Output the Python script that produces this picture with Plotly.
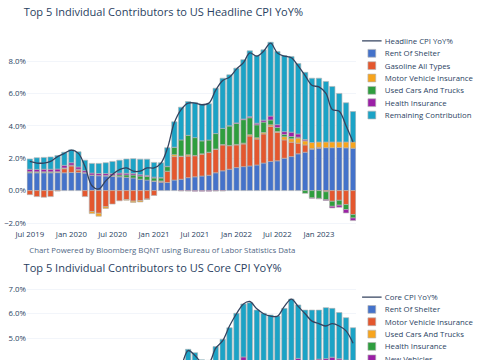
import plotly.graph_objects as go

months = [
    "2019-07-01", "2019-08-01", "2019-09-01", "2019-10-01", "2019-11-01", "2019-12-01",
    "2020-01-01", "2020-02-01", "2020-03-01", "2020-04-01", "2020-05-01", "2020-06-01",
    "2020-07-01", "2020-08-01", "2020-09-01", "2020-10-01", "2020-11-01", "2020-12-01",
    "2021-01-01", "2021-02-01", "2021-03-01", "2021-04-01", "2021-05-01", "2021-06-01",
    "2021-07-01", "2021-08-01", "2021-09-01", "2021-10-01", "2021-11-01", "2021-12-01",
    "2022-01-01", "2022-02-01", "2022-03-01", "2022-04-01", "2022-05-01", "2022-06-01",
    "2022-07-01", "2022-08-01", "2022-09-01", "2022-10-01", "2022-11-01", "2022-12-01",
    "2023-01-01", "2023-02-01", "2023-03-01", "2023-04-01", "2023-05-01", "2023-06-01",
]

# ---------------- Headline CPI ----------------
headline_cpi = [1.8, 1.7, 1.7, 1.8, 2.1, 2.3, 2.5, 2.3, 1.5, 0.3, 0.1, 0.6, 1.0, 1.3, 1.4, 1.2, 1.2, 1.4,
                1.4, 1.7, 2.6, 4.2, 5.0, 5.4, 5.4, 5.3, 5.4, 6.2, 6.8, 7.0, 7.5, 7.9, 8.5, 8.3, 8.6, 9.1,
                8.5, 8.3, 8.2, 7.7, 7.1, 6.5, 6.4, 6.0, 5.0, 4.9, 4.0, 3.0]
h_rent = [1.10, 1.10, 1.10, 1.10, 1.11, 1.10, 1.12, 1.12, 1.08, 0.95, 0.92, 0.90, 0.88, 0.85, 0.82, 0.78, 0.70, 0.65,
          0.58, 0.52, 0.50, 0.65, 0.70, 0.80, 0.85, 0.90, 0.95, 1.10, 1.22, 1.32, 1.42, 1.48, 1.52, 1.58, 1.70, 1.80,
          1.84, 2.00, 2.10, 2.27, 2.37, 2.55, 2.62, 2.65, 2.65, 2.66, 2.64, 2.62]
h_gasoline = [-0.25, -0.37, -0.41, -0.37, -0.03, 0.25, 0.40, 0.15, -0.37, -1.30, -1.40, -1.00, -0.83, -0.63, -0.55, -0.65, -0.62, -0.52,
              -0.30, 0.05, 0.68, 1.45, 1.40, 1.33, 1.30, 1.35, 1.40, 1.45, 1.60, 1.45, 1.40, 1.40, 1.85, 1.60, 1.80, 2.16,
              1.75, 1.13, 0.89, 0.66, 0.45, 0.05, 0.05, -0.07, -0.66, -0.60, -0.86, -1.48]
h_motor_ins = [0.04, 0.04, 0.04, 0.04, 0.04, 0.04, 0.05, 0.05, 0.03, -0.12, -0.18, -0.10, 0.02, 0.02, -0.05, -0.08, -0.08, -0.02,
               0.02, 0.03, 0.02, 0.12, 0.03, 0.08, 0.02, 0.02, 0.02, 0.02, 0.02, 0.02, 0.03, 0.05, 0.08, 0.08, 0.08, 0.10,
               0.06, 0.20, 0.21, 0.31, 0.25, 0.37, 0.33, 0.35, 0.35, 0.34, 0.36, 0.38]
h_used_cars = [0.03, 0.02, 0.02, 0.02, 0.02, 0.01, 0.00, 0.00, 0.00, 0.01, 0.01, 0.03, 0.05, 0.10, 0.15, 0.18, 0.20, 0.22,
               0.18, 0.18, 0.28, 0.45, 1.00, 1.20, 1.10, 0.80, 0.75, 0.95, 1.00, 1.20, 1.30, 1.45, 1.05, 0.80, 0.65, 0.30,
               0.25, 0.14, 0.14, 0.06, -0.17, -0.45, -0.48, -0.50, -0.31, -0.30, -0.31, -0.21]
h_health = [0.15, 0.15, 0.16, 0.16, 0.16, 0.16, 0.15, 0.14, 0.12, 0.12, 0.12, 0.12, 0.11, 0.11, 0.10, 0.09, 0.08, 0.07,
            0.05, 0.03, 0.02, 0.01, -0.02, -0.03, -0.04, -0.04, -0.04, -0.03, -0.02, 0.02, 0.03, 0.04, 0.06, 0.10, 0.12, 0.24,
            0.17, 0.17, 0.27, 0.20, 0.08, -0.02, -0.03, -0.04, -0.10, -0.13, -0.21, -0.16]
h_remaining = [0.63, 0.72, 0.73, 0.76, 0.84, 0.81, 0.80, 0.94, 0.65, 0.60, 0.63, 0.67, 0.74, 0.80, 0.88, 0.92, 0.96, 1.00,
               0.91, 0.91, 1.15, 1.57, 2.02, 2.09, 2.17, 2.25, 2.24, 2.80, 3.10, 3.14, 3.38, 3.66, 4.07, 4.18, 4.34, 4.56,
               4.52, 4.70, 4.67, 4.35, 4.15, 3.97, 3.94, 3.74, 3.43, 3.00, 2.42, 1.88]

# ---------------- Core CPI ----------------
core_cpi = [2.2, 2.4, 2.4, 2.3, 2.3, 2.3, 2.3, 2.4, 2.1, 1.4, 1.2, 1.2, 1.6, 1.7, 1.7, 1.6, 1.6, 1.6,
            1.4, 1.3, 1.6, 3.0, 3.8, 4.5, 4.3, 4.0, 4.0, 4.6, 4.9, 5.5, 6.0, 6.4, 6.5, 6.2, 6.0, 5.9,
            5.9, 6.3, 6.6, 6.3, 6.0, 5.7, 5.6, 5.5, 5.6, 5.5, 5.3, 4.8]
c_rent = [1.40, 1.41, 1.42, 1.42, 1.42, 1.41, 1.42, 1.43, 1.30, 1.15, 1.08, 1.02, 0.98, 0.95, 0.92, 0.88, 0.85, 0.80,
          0.75, 0.70, 0.70, 0.78, 0.88, 1.00, 1.08, 1.15, 1.22, 1.38, 1.52, 1.68, 1.80, 1.92, 2.00, 2.10, 2.25, 2.38,
          2.45, 2.60, 2.78, 2.95, 3.08, 3.25, 3.35, 3.42, 3.45, 3.48, 3.45, 3.42]
c_motor_ins = [0.12, 0.12, 0.12, 0.11, 0.10, 0.10, 0.09, 0.09, 0.06, -0.15, -0.22, -0.12, 0.02, 0.02, -0.05, -0.08, -0.08, -0.02,
               0.02, 0.03, 0.02, 0.12, 0.03, 0.08, 0.02, 0.02, 0.02, 0.02, 0.02, 0.02, 0.04, 0.05, 0.08, 0.09, 0.10, 0.12,
               0.10, 0.22, 0.26, 0.40, 0.32, 0.45, 0.42, 0.45, 0.45, 0.43, 0.46, 0.48]
c_used_cars = [0.02, 0.02, 0.01, 0.01, 0.01, 0.00, -0.03, -0.02, -0.01, -0.02, -0.03, 0.02, 0.05, 0.12, 0.20, 0.24, 0.26, 0.28,
               0.22, 0.22, 0.35, 0.80, 1.30, 1.70, 1.55, 1.20, 1.00, 1.05, 1.20, 1.50, 1.65, 1.75, 1.35, 1.00, 0.80, 0.40,
               0.32, 0.20, 0.18, 0.08, -0.22, -0.55, -0.58, -0.70, -0.40, -0.38, -0.40, -0.28]
c_health = [0.20, 0.20, 0.21, 0.21, 0.20, 0.20, 0.19, 0.18, 0.16, 0.15, 0.15, 0.14, 0.14, 0.13, 0.12, 0.11, 0.10, 0.08,
            0.05, 0.03, 0.02, 0.01, -0.02, -0.03, -0.04, -0.04, -0.04, -0.03, -0.02, 0.02, 0.03, 0.04, 0.07, 0.12, 0.15, 0.28,
            0.22, 0.20, 0.30, 0.25, 0.10, -0.03, -0.04, -0.05, -0.13, -0.17, -0.27, -0.21]
c_new_vehicles = [0.02, 0.01, 0.01, 0.02, 0.02, 0.02, 0.02, 0.02, 0.03, 0.03, 0.04, 0.05, 0.05, 0.05, 0.05, 0.06, 0.06, 0.06,
                  0.06, 0.05, 0.06, 0.08, 0.12, 0.15, 0.22, 0.30, 0.38, 0.42, 0.45, 0.50, 0.52, 0.48, 0.52, 0.55, 0.57, 0.58,
                  0.60, 0.60, 0.58, 0.50, 0.45, 0.40, 0.38, 0.30, 0.33, 0.25, 0.20, 0.15]
c_remaining = [0.44, 0.64, 0.63, 0.53, 0.55, 0.57, 0.61, 0.70, 0.56, 0.24, 0.18, 0.09, 0.36, 0.43, 0.46, 0.39, 0.41, 0.40,
               0.30, 0.27, 0.45, 1.21, 1.49, 1.62, 1.54, 1.45, 1.48, 1.79, 1.77, 1.71, 1.98, 2.16, 2.43, 2.29, 2.15, 2.19,
               2.22, 2.40, 2.50, 2.18, 2.20, 2.05, 2.00, 2.08, 1.99, 1.89, 1.73, 1.38]

headline_names = ["Rent Of Shelter", "Gasoline All Types", "Motor Vehicle Insurance",
                  "Used Cars And Trucks", "Health Insurance", "Remaining Contribution"]
core_names = ["Rent Of Shelter", "Motor Vehicle Insurance", "Used Cars And Trucks",
              "Health Insurance", "New Vehicles", "Remaining Contribution"]

palette = ["#4472CA", "#E4572E", "#F7A41D", "#2E9E3E", "#9B1FA6", "#1BA3C6"]
line_color = "#34435F"
edge_color = "rgb(180,180,180)"

# figure is drawn at 1/0.65 scale and shown zoomed to 485x360
W, H = 746, 554
fig = go.Figure()

fig.add_trace(go.Scatter(x=months, y=headline_cpi, name="Headline CPI YoY%", mode="lines",
                         line=dict(color=line_color, width=2, shape="spline"),
                         xaxis="x", yaxis="y", legend="legend"))
for name, vals, col in zip(headline_names,
                           [h_rent, h_gasoline, h_motor_ins, h_used_cars, h_health, h_remaining],
                           palette):
    fig.add_trace(go.Bar(x=months, y=vals, name=name,
                         marker=dict(color=col, line=dict(color=edge_color, width=1)),
                         xaxis="x", yaxis="y", legend="legend"))

fig.add_trace(go.Scatter(x=months, y=core_cpi, name="Core CPI YoY%", mode="lines",
                         line=dict(color=line_color, width=2, shape="spline"),
                         xaxis="x2", yaxis="y2", legend="legend2"))
for name, vals, col in zip(core_names,
                           [c_rent, c_motor_ins, c_used_cars, c_health, c_new_vehicles, c_remaining],
                           palette):
    fig.add_trace(go.Bar(x=months, y=vals, name=name,
                         marker=dict(color=col, line=dict(color=edge_color, width=1)),
                         xaxis="x2", yaxis="y2", legend="legend2"))


def py(px):
    return 1 - px / H


xcommon = dict(type="date", showgrid=False, tick0="2019-07-01", dtick="M6", tickformat="%b %Y",
               zeroline=False, automargin=False)
ycommon = dict(gridcolor="#EBF0F8", zerolinecolor="#EBF0F8", zerolinewidth=1, automargin=False,
               tickformat=".1f", ticksuffix="%")

fig.update_layout(
    template="plotly_white",
    width=W, height=H,
    margin=dict(l=41, r=198, t=0, b=0, autoexpand=False),
    barmode="relative", bargap=0.15,
    showlegend=True,
    xaxis=dict(domain=[0, 1], anchor="y", **xcommon),
    yaxis=dict(domain=[py(351.8), py(51.5)], anchor="x", range=[-2.35, 9.7], dtick=2, **ycommon),
    xaxis2=dict(domain=[0, 1], anchor="y2", showticklabels=False, **xcommon),
    yaxis2=dict(domain=[0, py(443.1)], anchor="x2", range=[4.11, 7.05], dtick=1, **ycommon),
    legend=dict(x=1.008, y=py(48.5), xanchor="left", yanchor="top", traceorder="normal",
                bgcolor="rgba(0,0,0,0)"),
    legend2=dict(x=1.008, y=py(442.5), xanchor="left", yanchor="top", traceorder="normal",
                 bgcolor="rgba(0,0,0,0)"),
    annotations=[
        dict(text="Top 5 Individual Contributors to US Headline CPI YoY%", xref="paper", yref="paper",
             x=-7 / 505, y=py(18.5), xanchor="left", yanchor="middle", showarrow=False,
             font=dict(size=17)),
        dict(text="Chart Powered by Bloomberg BQNT using Bureau of Labor Statistics Data",
             xref="paper", yref="paper",
             x=2 / 505, y=py(385), xanchor="left", yanchor="middle", showarrow=False,
             font=dict(size=12, color="#506784")),
        dict(text="Top 5 Individual Contributors to US Core CPI YoY%", xref="paper", yref="paper",
             x=-7 / 505, y=py(412), xanchor="left", yanchor="middle", showarrow=False,
             font=dict(size=17)),
    ],
)

post = ("var gd=document.getElementById('{plot_id}');"
        "document.documentElement.style.overflow='hidden';"
        "document.body.style.margin='0';document.body.style.overflow='hidden';"
        "gd.style.zoom='0.65';")

fig.write_html("out.html", post_script=post, config={"staticPlot": True, "displayModeBar": False})
